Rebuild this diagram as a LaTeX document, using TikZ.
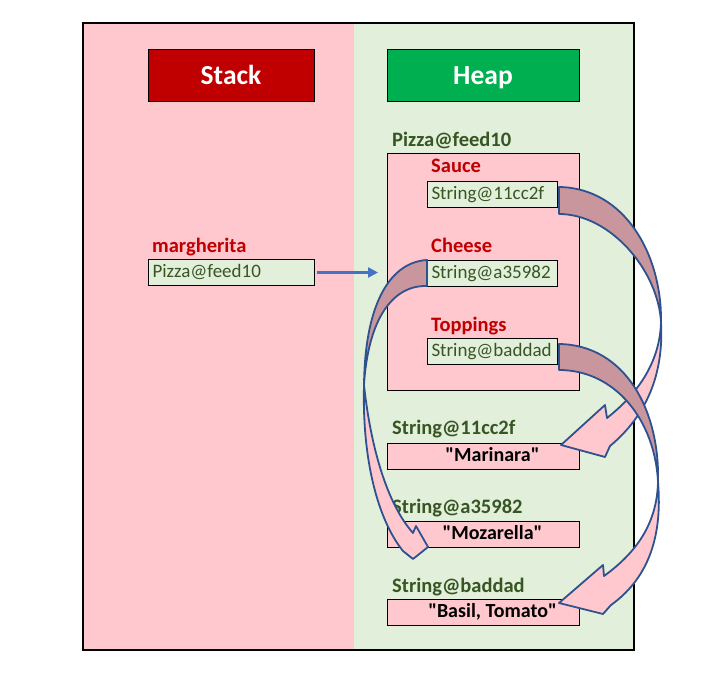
\documentclass[tikz,border=0pt]{standalone}
\usepackage{fontspec}
\setmainfont{Carlito}
\newfontfamily\valuefont{Carlito}
\usepackage{xcolor}
\usepackage{tikz}
\usetikzlibrary{arrows.meta, positioning, calc}
\definecolor{stackpink}{RGB}{255,199,206}
\definecolor{heapmint}{RGB}{226,239,218}
\definecolor{stackred}{RGB}{192,0,0}
\definecolor{heapbar}{RGB}{0,176,80}
\definecolor{refgreen}{RGB}{55,86,35}
\definecolor{linkblue}{RGB}{68,114,196}
\definecolor{ribbonline}{RGB}{47,82,143}
\definecolor{ribbonback}{RGB}{201,150,157}
\definecolor{ribbonfront}{RGB}{255,199,206}
\tikzset{
    titlebox/.style={rectangle, draw, line width=1pt, minimum width=166pt, minimum height=52pt, inner ysep=0pt, text height=19pt, text depth=0pt, text=white, font=\fontsize{27.5}{30}\selectfont\bfseries},
    refbox/.style={rectangle, draw, line width=1pt, fill=heapmint, text=refgreen, anchor=north west, inner xsep=4pt, inner ysep=0pt, text width=#1, align=left, text height=14.5pt, text depth=4.5pt, minimum height=26pt, font=\fontsize{19}{21}\selectfont},
    valbox/.style={rectangle, draw, line width=1pt, fill=stackpink, anchor=north west, minimum width=192pt, minimum height=26pt, inner ysep=0pt, text height=15pt, text depth=5pt, execute at begin node={\hspace*{18pt}}, font=\valuefont\fontsize{20}{22}\selectfont\bfseries},
    fieldname/.style={anchor=base west, inner sep=0pt, text=stackred, font=\fontsize{20.5}{22}\selectfont\bfseries},
    addrname/.style={anchor=base west, inner sep=0pt, text=refgreen, font=\fontsize{20.5}{22}\selectfont\bfseries},
    objbox/.style={rectangle, draw, line width=1pt, fill=stackpink, anchor=north west},
    linkarrow/.style={-{Triangle[length=10pt, width=10pt]}, line width=2.4pt, draw=linkblue},
    ribbonhalf/.style={draw=ribbonline, line width=1.8pt, line join=round},
}
\begin{document}
\begin{tikzpicture}[x=1pt, y=-1pt]
    \useasboundingbox (0,0) rectangle (726,676);

    % Panels
    \fill[stackpink] (83,23) rectangle (354,650);
    \fill[heapmint] (354,23) rectangle (634,650);
    \draw[line width=1.2pt] (83,23) rectangle (634,650);

    % Titles
    \node [titlebox, fill=stackred] (stacktitle) at (231,75.5) {Stack};
    \node [titlebox, fill=heapbar, minimum width=192pt] (heaptitle) at (483,75.5) {Heap};

    % Stack
    \node [refbox=158pt] (margheritaref) at (148,259) {Pizza@feed10};
    \node [fieldname] (margheritaname) at ($(margheritaref.north west)+(4,-6)$) {margherita};

    % Heap object
    \node [objbox, minimum width=192pt, minimum height=237pt] (pizzaobj) at (387,153) {};
    \node [addrname] (pizzaaddr) at ($(pizzaobj.north west)+(5,-6)$) {Pizza@feed10};
    \node [refbox=122pt] (sauceref) at (427,181) {String@11cc2f};
    \node [fieldname] (saucename) at ($(sauceref.north west)+(4,-8)$) {Sauce};
    \node [refbox=122pt] (cheeseref) at (427,260) {String@a35982};
    \node [fieldname] (cheesename) at ($(cheeseref.north west)+(4,-7)$) {Cheese};
    \node [refbox=122pt] (toppingsref) at (427,338) {String@baddad};
    \node [fieldname] (toppingsname) at ($(toppingsref.north west)+(4,-6)$) {Toppings};

    % Heap strings
    \node [valbox] (marinara) at (387,443) {"Marinara"};
    \node [addrname] (marinaraaddr) at ($(marinara.north west)+(5,-8)$) {String@11cc2f};
    \node [valbox] (mozarella) at (387,521) {"Mozarella"};
    \node [addrname] (mozarellaaddr) at ($(mozarella.north west)+(5,-8)$) {String@a35982};
    \node [valbox] (basiltomato) at (387,599) {"Basil, Tomato"};
    \node [addrname] (basiltomatoaddr) at ($(basiltomato.north west)+(5,-7)$) {String@baddad};

    % Reference arrow
    \draw [linkarrow, shorten <=2pt, shorten >=9pt] (margheritaref.east) -- (margheritaref.east -| pizzaobj.west);

    % Sauce -> Marinara
    \coordinate (saucetwist) at (661,322);
    \filldraw [ribbonhalf, fill=ribbonback] ($(sauceref.north east)+(1,6)$) .. controls (625,188) and (662,255) .. (saucetwist)
        .. controls (658,270) and (610,214) .. ($(sauceref.south east)+(1,6)$) -- cycle;
    \filldraw [ribbonhalf, fill=ribbonfront] (saucetwist) .. controls (660,360) and (640,392) .. (607,418) -- (605,405)
        -- ($(marinara.north east)+(-19,2)$) -- (605,457) -- (610,446) .. controls (646,416) and (664,375) .. (saucetwist) -- cycle;

    % Cheese -> Mozarella
    \coordinate (cheesetwist) at (364,385);
    \filldraw [ribbonhalf, fill=ribbonback] (cheeseref.north west) .. controls (392,262) and (365,300) .. (cheesetwist)
        .. controls (368,320) and (392,285) .. ($(cheeseref.south west)+(0,-1)$) -- cycle;
    \filldraw [ribbonhalf, fill=ribbonfront] (cheesetwist) .. controls (362,460) and (378,520) .. (403,551) -- (413,559)
        -- ($(mozarella.north west)+(41,26)$) -- (416,526) -- (413,533) .. controls (388,505) and (371,450) .. (cheesetwist) -- cycle;

    % Toppings -> Basil, Tomato
    \coordinate (toppingstwist) at (658,482);
    \filldraw [ribbonhalf, fill=ribbonfront] (toppingstwist) .. controls (657,520) and (640,550) .. (604,576) -- (603,565)
        -- ($(basiltomato.north east)+(-21,4)$) -- (603,614) -- (611,605) .. controls (646,580) and (663,540) .. (toppingstwist) -- cycle;
    \filldraw [ribbonhalf, fill=ribbonback] ($(toppingsref.north east)+(1,6)$) .. controls (625,345) and (660,410) .. (toppingstwist)
        .. controls (655,420) and (615,370) .. ($(toppingsref.south east)+(1,5)$) -- cycle;
\end{tikzpicture}
\end{document}
